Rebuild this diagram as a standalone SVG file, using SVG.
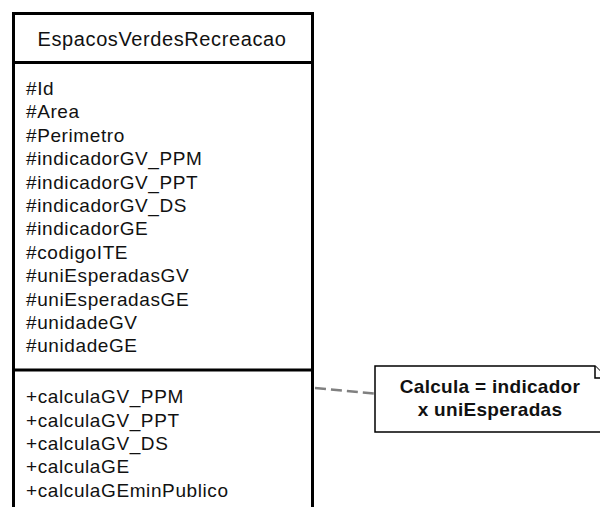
<svg xmlns="http://www.w3.org/2000/svg" width="600" height="507" viewBox="0 0 600 507">
<style>
.box{fill:#fff;stroke:#000;stroke-width:3}
.line{stroke:#000;stroke-width:3}
.t{font-family:"Liberation Sans",Arial,sans-serif;font-size:19px;letter-spacing:0.6px;fill:#111}
.title{font-family:"Liberation Sans",Arial,sans-serif;font-size:20px;letter-spacing:0.6px;fill:#111;text-anchor:middle}
.note{fill:#fff;stroke:#000;stroke-width:1.5}
.nt{font-family:"Liberation Sans",Arial,sans-serif;font-size:19px;font-weight:bold;letter-spacing:0.3px;fill:#111;text-anchor:middle}
.conn{stroke:#808080;stroke-width:2.5;stroke-dasharray:11 5;fill:none}
</style>
<rect width="600" height="507" fill="#fff"/>
<g id="connectors">
<path class="conn" d="M315 388 L375 393.5"/>
</g>
<g id="class-EspacosVerdesRecreacao">
<rect class="box" x="13.5" y="13.5" width="299" height="520"/>
<line class="line" x1="13.5" y1="62.5" x2="312.5" y2="62.5"/>
<line class="line" x1="13.5" y1="370" x2="312.5" y2="370"/>
<text class="title" x="162" y="45.5">EspacosVerdesRecreacao</text>
<text class="t" x="26" y="95">#Id</text>
<text class="t" x="26" y="118.4">#Area</text>
<text class="t" x="26" y="141.8">#Perimetro</text>
<text class="t" x="26" y="165.2">#indicadorGV_PPM</text>
<text class="t" x="26" y="188.6">#indicadorGV_PPT</text>
<text class="t" x="26" y="212">#indicadorGV_DS</text>
<text class="t" x="26" y="235.4">#indicadorGE</text>
<text class="t" x="26" y="258.8">#codigoITE</text>
<text class="t" x="26" y="282.2">#uniEsperadasGV</text>
<text class="t" x="26" y="305.6">#uniEsperadasGE</text>
<text class="t" x="26" y="329">#unidadeGV</text>
<text class="t" x="26" y="352.4">#unidadeGE</text>
<text class="t" x="26" y="403.3">+calculaGV_PPM</text>
<text class="t" x="26" y="426.7">+calculaGV_PPT</text>
<text class="t" x="26" y="450">+calculaGV_DS</text>
<text class="t" x="26" y="473.3">+calculaGE</text>
<text class="t" x="26" y="496.5">+calculaGEminPublico</text>
</g>
<g id="note">
<path class="note" d="M375 366 L595 366 L607 378 L607 432 L375 432 Z"/>
<path class="note" d="M595 366 L595 378 L607 378"/>
<text class="nt" x="490" y="393.3">Calcula = indicador</text>
<text class="nt" x="490" y="415.5">x uniEsperadas</text>
</g>
</svg>
